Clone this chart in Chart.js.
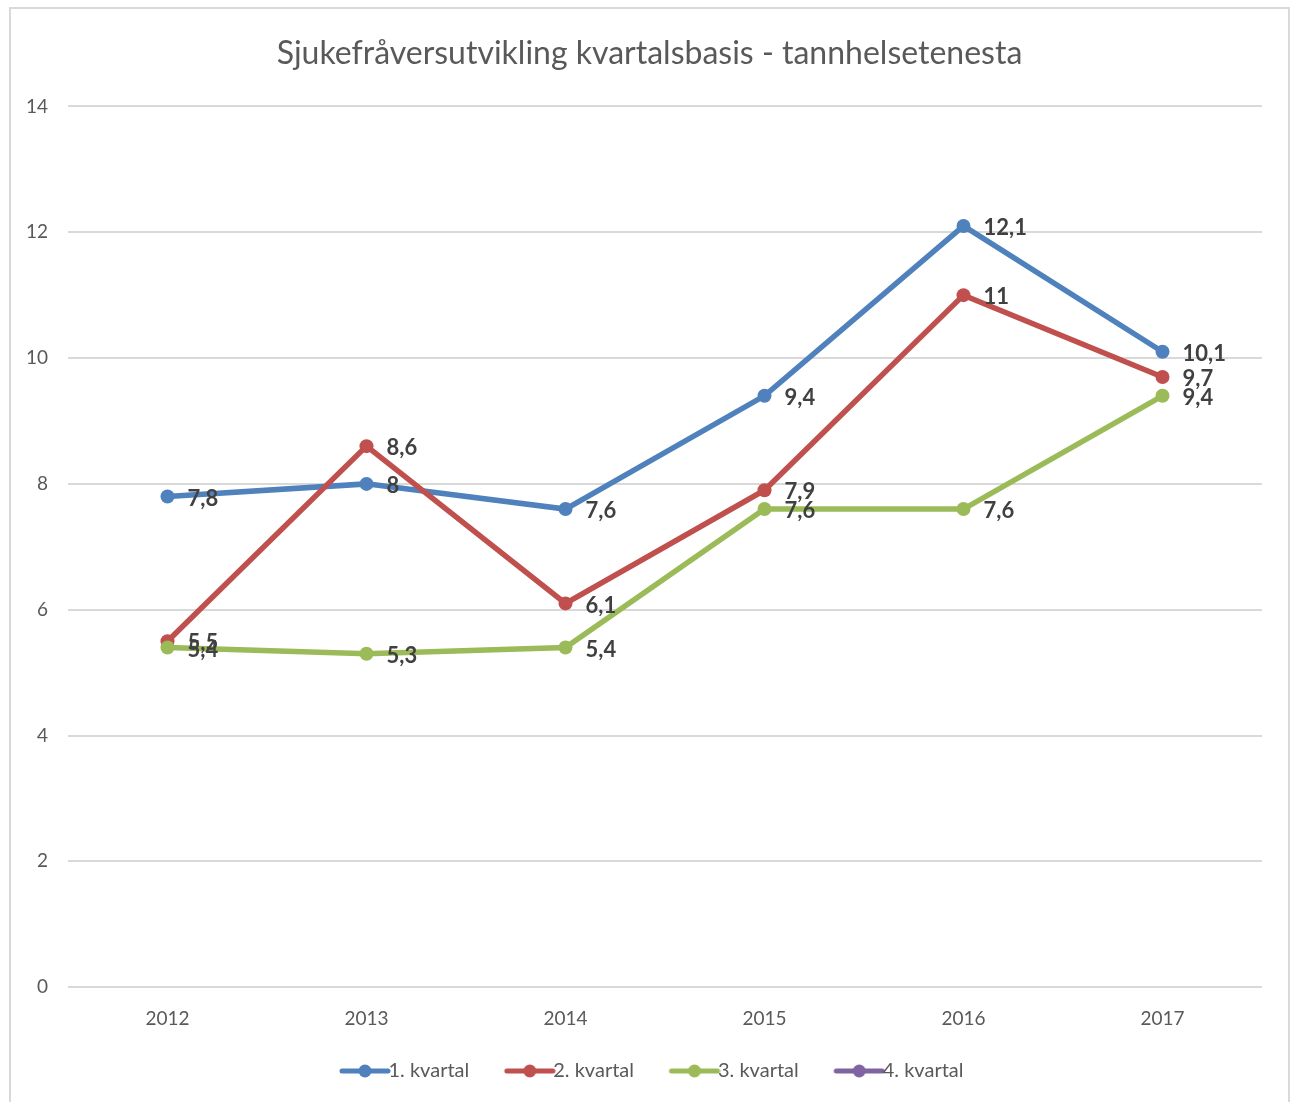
<!DOCTYPE html>
<html>
<head>
<meta charset="utf-8">
<script src="https://cdn.jsdelivr.net/npm/chart.js@4/dist/chart.umd.min.js"></script>
<style>
  html, body { margin: 0; padding: 0; background: #fff; overflow: hidden; }
  #box {
    position: absolute; left: 9px; top: 7px; width: 1277px; height: 1093px;
    border: 2px solid #d9d9d9; border-bottom: none;
  }
</style>
</head>
<body>
<div id="box"><canvas id="lineChart"></canvas></div>
<script>
var years = ['2012', '2013', '2014', '2015', '2016', '2017'];
var seriesNames = ['1. kvartal', '2. kvartal', '3. kvartal', '4. kvartal'];
var kvartal1 = [7.8, 8, 7.6, 9.4, 12.1, 10.1];
var kvartal2 = [5.5, 8.6, 6.1, 7.9, 11, 9.7];
var kvartal3 = [5.4, 5.3, 5.4, 7.6, 7.6, 9.4];
var kvartal4 = [null, null, null, null, null, null];
var yTicks = [0, 2, 4, 6, 8, 10, 12, 14];

var colors = ['#4F81BD', '#C0504D', '#9BBB59', '#8064A2'];
var fontName = 'Lato, "Open Sans", sans-serif';

// legend mark: a line with a dot, with empty space on the left as item gap
function legendMark(color) {
    var c = document.createElement('canvas');
    c.width = 88;
    c.height = 14;
    var g = c.getContext('2d');
    g.strokeStyle = color;
    g.lineWidth = 5;
    g.lineCap = 'round';
    g.beginPath();
    g.moveTo(39, 7);
    g.lineTo(85, 7);
    g.stroke();
    g.fillStyle = color;
    g.beginPath();
    g.arc(62, 7, 6.5, 0, Math.PI * 2);
    g.fill();
    return c;
}

// value labels to the right of each point
var valueLabels = {
    id: 'valueLabels',
    afterDatasetsDraw: function (chart) {
        var ctx = chart.ctx;
        ctx.save();
        ctx.font = 'bold 22px ' + fontName;
        ctx.fillStyle = '#404040';
        ctx.textAlign = 'left';
        ctx.textBaseline = 'middle';
        chart.data.datasets.forEach(function (ds, i) {
            var meta = chart.getDatasetMeta(i);
            meta.data.forEach(function (pt, j) {
                var v = ds.data[j];
                if (v === null || v === undefined) return;
                ctx.fillText(String(v).replace('.', ','), pt.x + 20, pt.y + 2);
            });
        });
        ctx.restore();
    }
};

// nudge the legend a little to the left
var legendShift = {
    id: 'legendShift',
    afterLayout: function (chart) {
        if (chart.legend) {
            chart.legend.left -= 10;
            chart.legend.right -= 10;
        }
    }
};

var allData = [kvartal1, kvartal2, kvartal3, kvartal4];
var datasets = allData.map(function (d, i) {
    return {
        label: seriesNames[i],
        data: d,
        borderColor: colors[i],
        backgroundColor: colors[i],
        borderWidth: 5.5,
        pointRadius: 7,
        pointBorderWidth: 0,
        pointBackgroundColor: colors[i],
        tension: 0,
        order: 3 - i
    };
});

var ctx = document.getElementById('lineChart').getContext('2d');
var myChart = new Chart(ctx, {
    type: 'line',
    data: {
        labels: years,
        datasets: datasets
    },
    plugins: [valueLabels, legendShift],
    options: {
        responsive: true,
        maintainAspectRatio: false,
        animation: false,
        layout: {
            padding: { left: 0, right: 0, top: 0, bottom: 11 }
        },
        scales: {
            x: {
                offset: true,
                grid: { display: false, drawTicks: false },
                border: { display: false },
                ticks: {
                    padding: 20,
                    color: '#595959',
                    font: { family: fontName, size: 19 }
                }
            },
            y: {
                min: 0,
                max: 14,
                afterBuildTicks: function (scale) {
                    scale.ticks = yTicks.map(function (v) { return { value: v }; });
                },
                afterFit: function (scale) {
                    scale.width = 57;
                },
                grid: { color: '#d9d9d9', lineWidth: 2, drawTicks: false },
                border: { display: false },
                ticks: {
                    padding: 20,
                    color: '#595959',
                    font: { family: fontName, size: 19 }
                }
            },
            // empty right axis, only keeps space on the right side
            yRight: {
                position: 'right',
                min: 0,
                max: 14,
                grid: { display: false, drawTicks: false },
                border: { display: false },
                ticks: { display: false },
                afterFit: function (scale) {
                    scale.width = 26;
                }
            }
        },
        plugins: {
            title: {
                display: true,
                text: 'Sjukefråversutvikling kvartalsbasis - tannhelsetenesta',
                color: '#595959',
                font: { family: fontName, size: 32, weight: 'normal' },
                padding: { top: 25, bottom: 34 }
            },
            legend: {
                position: 'bottom',
                labels: {
                    usePointStyle: true,
                    pointStyleWidth: 63,
                    padding: 11,
                    color: '#595959',
                    font: { family: fontName, size: 20 },
                    generateLabels: function (chart) {
                        return chart.data.datasets.map(function (ds, i) {
                            return {
                                text: ds.label,
                                pointStyle: legendMark(colors[i]),
                                fillStyle: colors[i],
                                strokeStyle: colors[i],
                                lineWidth: 0,
                                fontColor: '#595959',
                                hidden: false,
                                datasetIndex: i
                            };
                        });
                    }
                }
            },
            tooltip: { enabled: false }
        }
    }
});
</script>
</body>
</html>
